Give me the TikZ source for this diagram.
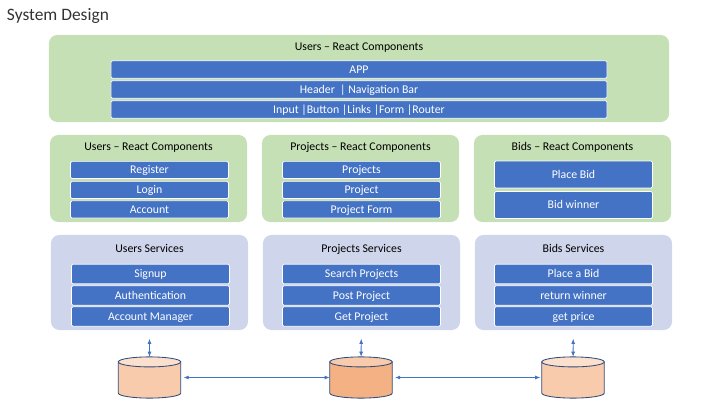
\documentclass[tikz,border=0pt]{standalone}
\usepackage{fontspec}
\setmainfont{Carlito}
\usetikzlibrary{arrows.meta}
\definecolor{uigreen}{HTML}{C5E0B4}
\definecolor{svcblue}{HTML}{CFD5EA}
\definecolor{barblue}{HTML}{4472C4}
\definecolor{dbline}{HTML}{2F4A7A}
\definecolor{dblight}{HTML}{F8CBAD}
\definecolor{dbtop}{HTML}{FBE0CE}
\definecolor{dbdark}{HTML}{F4B183}
\definecolor{dbmid}{HTML}{F8CBAD}

\begin{document}
\begin{tikzpicture}[x=0.025cm, y=-0.025cm, every node/.style={font=\fontsize{8.4}{10}\selectfont, text height=6.3pt, text depth=0.9pt}, >={Latex[length=1.3mm,width=1mm]},
	uipanel/.style={fill=uigreen, rounded corners=6pt, minimum height=2.175cm, minimum width=4.925cm, inner sep=0pt},
	svcpanel/.style={fill=svcblue, rounded corners=6pt, minimum height=2.375cm, minimum width=4.925cm, inner sep=0pt},
	bar/.style={fill=barblue, draw=white, line width=0.5pt, rounded corners=1pt, text=white, minimum width=3.95cm, inner sep=0pt},
	store/.style={minimum width=1.56cm, minimum height=1.03cm, inner sep=0pt, outer sep=0pt},
	storeline/.style={draw=dbline, line width=0.6pt},
	link/.style={<->, barblue, line width=0.6pt}]
	\useasboundingbox (0,0) rectangle (720,405);
	\node[anchor=west, font=\fontsize{12.4}{14}\selectfont, text=black!80] (title) at (2,17) {System Design};
	% top panel
	\node[uipanel, minimum width=15.5cm] (shell) at (359,78.5) {};
	\node (shelltitle) at (359,47) {Users – React Components};
	\node[bar, minimum width=12.4cm, minimum height=0.44cm] (app) at (359,69.5) {APP};
	\node[bar, minimum width=12.4cm, minimum height=0.44cm] (header) at (359,89.5) {Header~ | Navigation Bar};
	\node[bar, minimum width=12.4cm, minimum height=0.44cm] (input) at (359,109.5) {Input |Button |Links |Form |Router};
	% react components
	\foreach \name/\x/\txt in {users/148.5/Users, projects/360.5/Projects, bids/572.5/Bids} {
		\node[uipanel] (\name ui) at (\x,178.5) {};
		\node (\name uititle) at (\x,147) {\txt{} – React Components};
	}
	\foreach \name/\x/\y/\txt in {register/149.5/170/Register, login/149.5/190/Login, account/149.5/209.5/Account,
		projectlist/361.5/170/Projects, project/361.5/190/Project, projectform/361.5/209.5/Project Form} {
		\node[bar, minimum height=0.43cm] (\name) at (\x,\y) {\txt};
	}
	\node[bar, minimum height=0.67cm] (placebid) at (573.5,174.5) {Place Bid};
	\node[bar, minimum height=0.67cm] (bidwinner) at (573.5,205) {Bid winner};
	% services
	\foreach \name/\x/\txt in {users/149.5/Users, projects/361.5/Projects, bids/573.5/Bids} {
		\node[svcpanel] (\name svc) at (\x,282.5) {};
		\node (\name svctitle) at (\x,249) {\txt{} Services};
	}
	\foreach \name/\x/\y/\txt in {signup/150.5/274/Signup, auth/150.5/295.5/Authentication, manager/150.5/316.5/Account Manager,
		search/361.5/274/Search Projects, post/361.5/295.5/Post Project, getproject/361.5/316.5/Get Project,
		placeabid/573.5/274/Place a Bid, winner/573.5/295.5/return winner, price/573.5/316.5/get price} {
		\node[bar, minimum height=0.49cm] (\name) at (\x,\y) {\txt};
	}
	% data stores
	\foreach \name/\x/\body/\lid in {usersdb/149.5/dblight/dbtop, projectsdb/361/dbdark/dbmid, bidsdb/573/dblight/dbtop} {
		\node[store] (\name) at (\x,377.5) {};
		\draw[storeline, fill=\body] ([yshift=-0.125cm]\name.north west) -- ([yshift=0.125cm]\name.south west)
			arc[start angle=180, end angle=360, x radius=0.78cm, y radius=0.125cm] -- ([yshift=-0.125cm]\name.north east) -- cycle;
		\draw[storeline, fill=\lid] ([yshift=-0.125cm]\name.north) ellipse (0.78cm and 0.125cm);
	}
	\draw[link, shorten <=6pt] (userssvc) -- (usersdb);
	\draw[link, shorten <=6pt] (projectssvc) -- (projectsdb);
	\draw[link, shorten <=6pt] (bidssvc) -- (bidsdb);
	\draw[link, shorten <=2pt] (usersdb) -- (projectsdb);
	\draw[link, shorten <=2pt, shorten >=1pt] (projectsdb) -- (bidsdb);
\end{tikzpicture}
\end{document}
